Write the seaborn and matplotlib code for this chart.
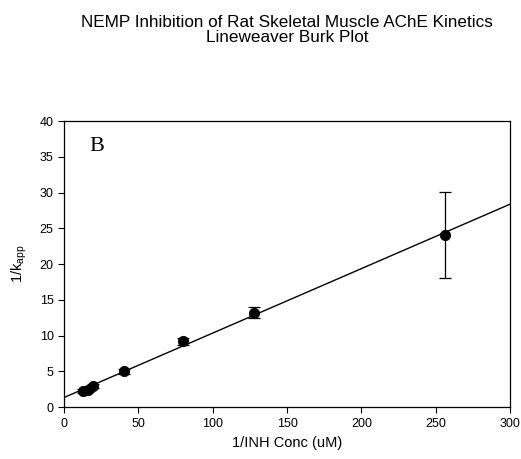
import numpy as np
import pandas as pd
import matplotlib
matplotlib.use("Agg")
import matplotlib.pyplot as plt
import seaborn as sns

inv_conc = [12.8, 16.0, 19.2, 40.0, 80.0, 128.0, 256.0]
inv_kapp = [2.3, 2.4, 3.0, 5.0, 9.2, 13.2, 24.1]
kapp_err = [0.3, 0.3, 0.3, 0.3, 0.5, 0.8, 6.0]

title = "NEMP Inhibition of Rat Skeletal Muscle AChE Kinetics\nLineweaver Burk Plot"
xlabel = "1/INH Conc (uM)"
ylabel = "1/k$_{\\rm app}$"
x_ticks = [0, 50, 100, 150, 200, 250, 300]
y_ticks = [0, 5, 10, 15, 20, 25, 30, 35, 40]

sns.set_style("ticks")
plt.rcParams['font.family'] = ['Liberation Sans', 'DejaVu Sans']
plt.rcParams['text.color'] = 'black'
plt.rcParams['axes.labelcolor'] = 'black'
plt.rcParams['xtick.color'] = 'black'
plt.rcParams['ytick.color'] = 'black'
plt.rcParams['mathtext.fontset'] = 'custom'
plt.rcParams['mathtext.rm'] = 'Liberation Sans'
plt.rcParams['mathtext.it'] = 'Liberation Sans:italic'

df = pd.DataFrame({"x": inv_conc, "y": inv_kapp, "err": kapp_err})

fig = plt.figure(figsize=(5.21, 4.59), dpi=100)
ax = fig.add_axes([0.123, 0.113, 0.856, 0.623])
ax.set_xlim(0, 300)
ax.set_ylim(0, 40)

sns.regplot(data=df, x="x", y="y", ax=ax, ci=None, truncate=False,
            scatter=False, line_kws=dict(color="black", lw=1.0))
ax.errorbar(df["x"], df["y"], yerr=df["err"], fmt="none", ecolor="black",
            elinewidth=0.9, capsize=4.5, capthick=0.9, zorder=3)
sns.scatterplot(data=df, x="x", y="y", ax=ax, color="black", s=55,
                edgecolor="black", zorder=4, legend=False)

ax.set_xlim(0, 300)
ax.set_ylim(0, 40)
ax.set_xticks(x_ticks)
ax.set_yticks(y_ticks)
ax.tick_params(direction="out", length=4, width=0.8, labelsize=9, colors="black",
               top=False, right=False)
for s in ax.spines.values():
    s.set_linewidth(0.9)
    s.set_color("black")
    s.set_visible(True)

ax.set_xlabel(xlabel, fontsize=10.5, labelpad=5)
ax.set_ylabel(ylabel, fontsize=10.5, labelpad=8)
ax.text(17, 36.5, "B", fontsize=16, family="Liberation Serif", va="center")
fig.text(0.551, 0.968, title, fontsize=12.3, ha="center", va="top", linespacing=1.05)

fig.savefig("out.png", dpi=100)
